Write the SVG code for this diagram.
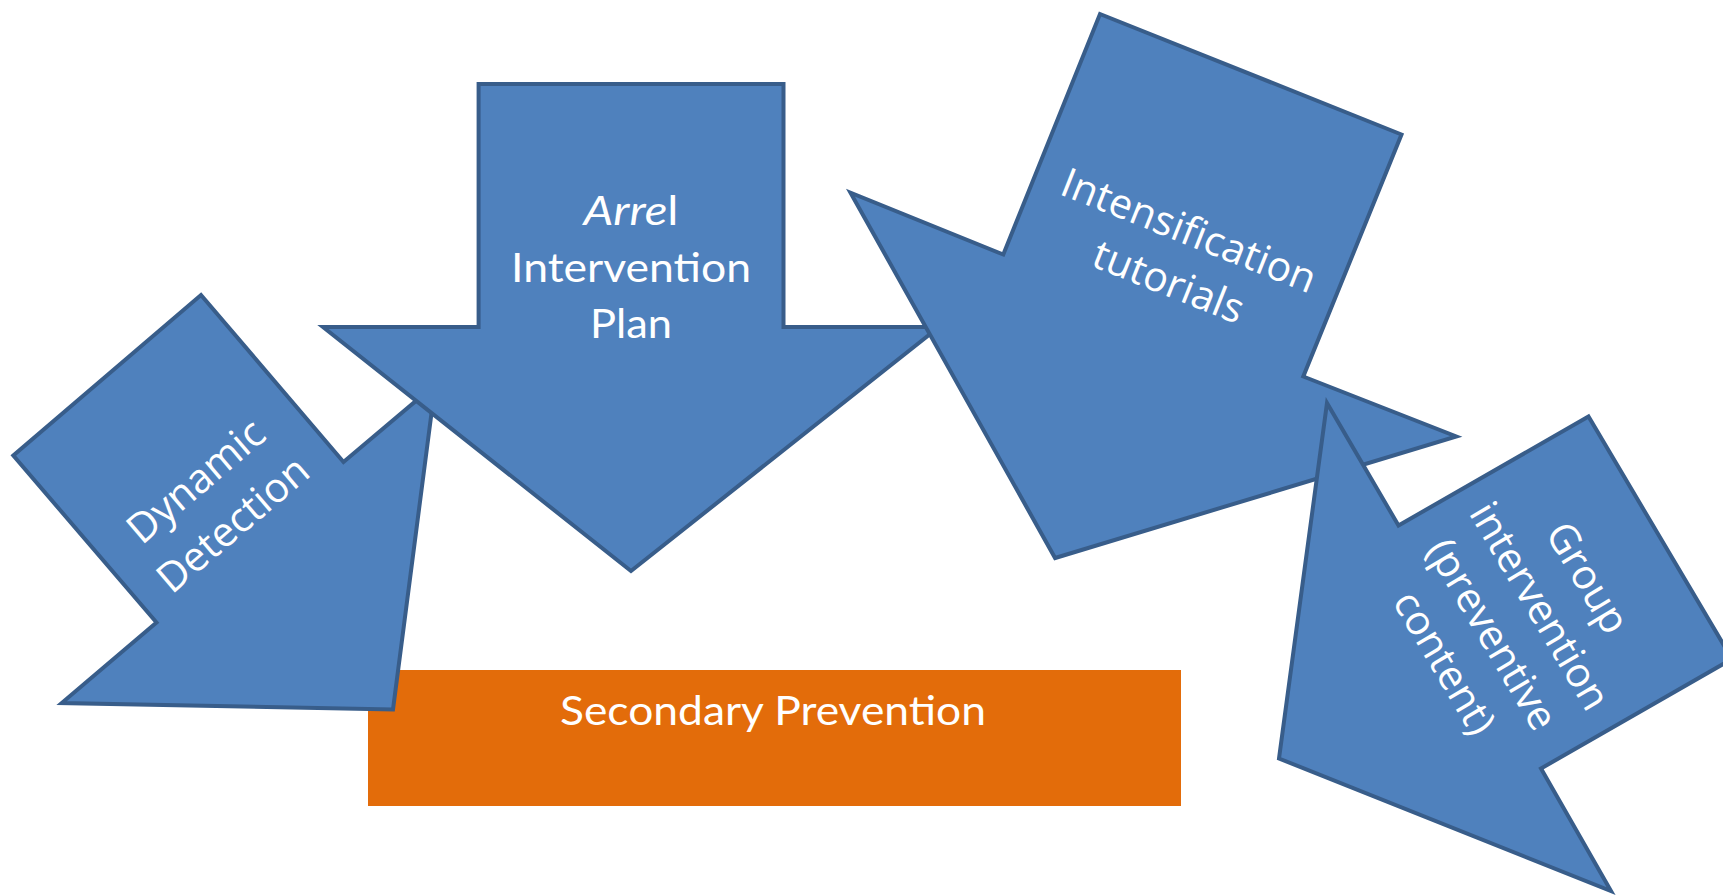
<svg xmlns="http://www.w3.org/2000/svg" width="1723" height="895" viewBox="0 0 1723 895">
<style>
.arrow{fill:#4F81BD;stroke:#385D8A;stroke-width:4;stroke-linejoin:miter}
.rot{font-family:"Open Sans","Noto Sans","DejaVu Sans",sans-serif;font-size:41px;fill:#FFFFFF;text-anchor:middle}
.cal{font-family:Lato,"Open Sans","Liberation Sans",sans-serif;font-size:41px;fill:#FFFFFF;text-anchor:middle}
</style>
<rect width="1723" height="895" fill="#FFFFFF"/>
<g id="secondary-prevention">
<rect x="368" y="670" width="813" height="136" fill="#E36C0A"/>
<text class="cal" x="773" y="725" font-size="42" textLength="426" lengthAdjust="spacingAndGlyphs" fill="#F5F5F5">Secondary Prevention</text>
</g>
<g id="dynamic-detection">
<polygon class="arrow" points="201,295 343.5,462 435.2,384.7 393,709.5 61.7,703 156.5,622.5 13.3,455.5"/>
<g transform="translate(205,491.7) rotate(-40.5)">
<text class="rot" x="0" y="0">Dynamic</text>
<text class="rot" x="0" y="57">Detection</text>
</g>
</g>
<g id="arrel-intervention-plan">
<polygon class="arrow" points="478.6,84 783.5,84 783.5,327 939,327 631,571 323,327 478.6,327"/>
<text class="cal" x="631" y="225" textLength="95" lengthAdjust="spacingAndGlyphs"><tspan font-style="italic">Arre</tspan>l</text>
<text class="cal" x="631" y="281.7" textLength="240" lengthAdjust="spacingAndGlyphs">Intervention</text>
<text class="cal" x="631" y="338.3" textLength="82" lengthAdjust="spacingAndGlyphs">Plan</text>
</g>
<g id="intensification-tutorials">
<polygon class="arrow" points="1100,14 1401.5,134.5 1303.3,376.5 1456.3,436.5 1055.1,558 850.5,192.7 1003.3,254.5"/>
<g transform="translate(1183.7,243.7) rotate(21.7)">
<text class="rot" x="0" y="0">Intensification</text>
<text class="rot" x="0" y="55">tutorials</text>
</g>
</g>
<g id="group-intervention">
<polygon class="arrow" points="1327,403 1398.5,525.5 1588.5,416.5 1732,659 1541,768.5 1611,891 1279,758.5"/>
<g transform="translate(1575.5,584.9) rotate(59.3)">
<text class="rot" x="0" y="0">Group</text>
<text class="rot" x="0" y="55.5">intervention</text>
<text class="rot" x="0" y="111">(preventive</text>
<text class="rot" x="0" y="166.5">content)</text>
</g>
</g>
<g id="connectors"></g>
</svg>
